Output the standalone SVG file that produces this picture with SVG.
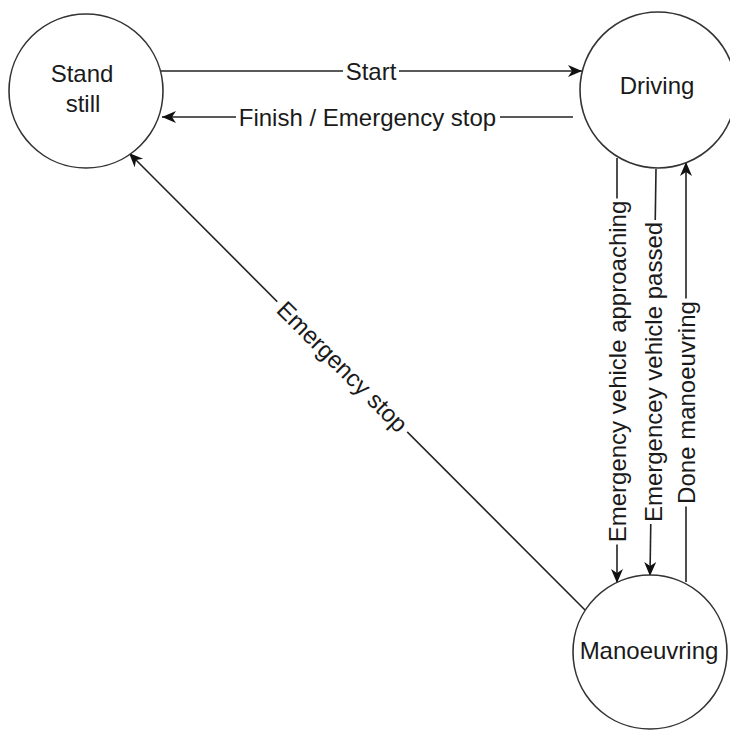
<svg xmlns="http://www.w3.org/2000/svg" width="730" height="731" viewBox="0 0 730 731">
  <defs>
    <marker id="arrow" markerUnits="userSpaceOnUse" markerWidth="16" markerHeight="14" refX="14" refY="6" orient="auto" overflow="visible">
      <path d="M0,0 L14,6 L0,12 L4,6 Z" fill="#111"/>
    </marker>
    <style>
      .state { fill: #fff; stroke: #333; stroke-width: 1.6; }
      .edge { fill: none; stroke: #222; stroke-width: 1.6; }
      .lbl { font-family: "Liberation Sans", Arial, Helvetica, sans-serif; font-size: 24px; fill: #1a1a1a; text-anchor: middle; }
      .bg { fill: #fff; }
    </style>
  </defs>
  <rect width="730" height="731" fill="#fff"/>

  <!-- transitions -->
  <g id="edges">
    <line class="edge" x1="160" y1="71" x2="582" y2="71" marker-end="url(#arrow)"/>
    <line class="edge" x1="573" y1="117" x2="162" y2="117" marker-end="url(#arrow)"/>
    <line class="edge" x1="585" y1="610" x2="129" y2="153" marker-end="url(#arrow)"/>
    <line class="edge" x1="617" y1="158" x2="617" y2="583" marker-end="url(#arrow)"/>
    <line class="edge" x1="656" y1="169" x2="650" y2="576" marker-end="url(#arrow)"/>
    <line class="edge" x1="686" y1="582" x2="686" y2="162" marker-end="url(#arrow)"/>

    <g id="label-start">
      <rect class="bg" x="343" y="61" width="56" height="20"/>
      <text class="lbl" x="371" y="79.5">Start</text>
    </g>
    <g id="label-finish">
      <rect class="bg" x="236" y="107" width="264" height="20"/>
      <text class="lbl" x="367.5" y="125.5">Finish / Emergency stop</text>
    </g>
    <g id="label-emergency-stop" transform="translate(342.5,366.5) rotate(45)">
      <rect class="bg" x="-92" y="-10" width="184" height="20"/>
      <text class="lbl" x="0" y="8.5">Emergency stop</text>
    </g>
    <g id="label-approaching" transform="translate(617,371.5) rotate(-90)">
      <rect class="bg" x="-173" y="-10" width="346" height="20"/>
      <text class="lbl" x="0" y="8.5">Emergency vehicle approaching</text>
    </g>
    <g id="label-passed" transform="translate(653,372) rotate(-90)">
      <rect class="bg" x="-152" y="-10" width="304" height="20"/>
      <text class="lbl" x="0" y="8.5">Emergencey vehicle passed</text>
    </g>
    <g id="label-done" transform="translate(686,402.5) rotate(-90)">
      <rect class="bg" x="-104" y="-10" width="208" height="20"/>
      <text class="lbl" x="0" y="8.5">Done manoeuvring</text>
    </g>
  </g>

  <!-- states -->
  <g id="stand-still">
    <circle class="state" cx="86" cy="91" r="77"/>
    <text class="lbl" x="82" y="82">Stand</text>
    <text class="lbl" x="83" y="112">still</text>
  </g>
  <g id="driving">
    <circle class="state" cx="658" cy="90" r="78"/>
    <text class="lbl" x="657" y="94">Driving</text>
  </g>
  <g id="manoeuvring">
    <circle class="state" cx="650" cy="652" r="77"/>
    <text class="lbl" x="649" y="659">Manoeuvring</text>
  </g>
</svg>
